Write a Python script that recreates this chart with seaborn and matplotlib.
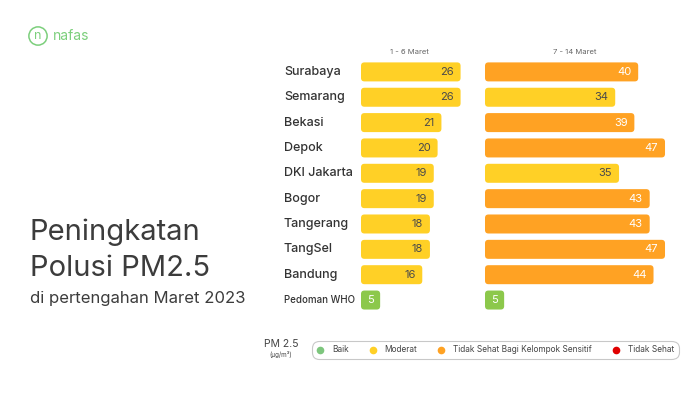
import pandas as pd
import matplotlib.pyplot as plt
import matplotlib.transforms as mtransforms
from matplotlib.patches import FancyBboxPatch
from matplotlib.lines import Line2D
import seaborn as sns

# data
cities = ["Surabaya", "Semarang", "Bekasi", "Depok", "DKI Jakarta", "Bogor",
          "Tangerang", "TangSel", "Bandung", "Pedoman WHO"]
early_march = [26, 26, 21, 20, 19, 19, 18, 18, 16, 5]
mid_march = [40, 34, 39, 47, 35, 43, 43, 47, 44, 5]
early_cat = ["Moderat"] * 9 + ["Baik"]
mid_cat = ["Tidak Sehat BKS", "Moderat", "Tidak Sehat BKS", "Tidak Sehat BKS", "Moderat",
           "Tidak Sehat BKS", "Tidak Sehat BKS", "Tidak Sehat BKS", "Tidak Sehat BKS", "Baik"]
period_labels = ["1 - 6 Maret", "7 - 14 Maret"]
legend_labels = ["Baik", "Moderat", "Tidak Sehat Bagi Kelompok Sensitif", "Tidak Sehat"]

bar_colors = {"Baik": "#8cc84b", "Moderat": "#ffd026", "Tidak Sehat BKS": "#ffa223"}
text_colors = {"Baik": "white", "Moderat": "#4a4a4a", "Tidak Sehat BKS": "white"}
legend_colors = ["#7dc67d", "#ffd026", "#ffa223", "#e00000"]

sns.set_style("white")
plt.rcParams["font.family"] = ["Inter", "DejaVu Sans"]

fig = plt.figure(figsize=(7, 3.93), dpi=100)

# axes: left panel starts x=361px, right x=485px, ~3.83 px per unit
px_per_unit = 3.83
bottom, height = 0.2043, 0.645
ax1 = fig.add_axes([361 / 700, bottom, 30 * px_per_unit / 700, height])
ax2 = fig.add_axes([485 / 700, bottom, 50 * px_per_unit / 700, height])

panels = [(ax1, early_march, early_cat, 30), (ax2, mid_march, mid_cat, 50)]
for ax, vals, cats, xmax in panels:
    df = pd.DataFrame({"city": cities, "pm25": vals, "cat": cats})
    sns.barplot(data=df, y="city", x="pm25", hue="cat", palette=bar_colors,
                dodge=False, orient="h", width=0.75, saturation=1, ax=ax, legend=False)
    ax.set_xlim(0, xmax)
    ax.set_ylim(len(cities) - 0.5, -0.5)
    ax.axis("off")

    # rounded bars
    row_px = height * 393 / len(cities)
    for p in list(ax.patches):
        if p.get_width() == 0:
            p.remove()
            continue
        fb = FancyBboxPatch((p.get_x(), p.get_y()), p.get_width(), p.get_height(),
                            boxstyle="round,pad=0,rounding_size=0.9",
                            mutation_aspect=px_per_unit / row_px,
                            facecolor=p.get_facecolor(), edgecolor="none")
        p.remove()
        ax.add_patch(fb)

    for i, (v, c) in enumerate(zip(vals, cats)):
        if c == "Baik":
            ax.text(v / 2, i, str(v), ha="center", va="center", fontsize=8,
                    color=text_colors[c])
        else:
            ax.text(v - 1.8, i, str(v), ha="right", va="center", fontsize=8,
                    color=text_colors[c])

# city labels
trans = mtransforms.blended_transform_factory(fig.transFigure, ax1.transData)
for i, name in enumerate(cities):
    if name == "Pedoman WHO":
        ax1.text(284 / 700, i, name, transform=trans, ha="left", va="center",
                 fontsize=7, fontweight="medium", color="#333333")
    else:
        ax1.text(284 / 700, i, name, transform=trans, ha="left", va="center",
                 fontsize=9, fontweight="medium", color="#333333")

# period headers
fig.text(409 / 700, 1 - 52 / 393, period_labels[0], ha="center", va="center",
         fontsize=5.5, color="#666666")
fig.text(575 / 700, 1 - 52 / 393, period_labels[1], ha="center", va="center",
         fontsize=5.5, color="#666666")

# title block
fig.text(30 / 700, 1 - 232 / 393, "Peningkatan", ha="left", va="center",
         fontsize=21, color="#3c3c3c")
fig.text(30 / 700, 1 - 268 / 393, "Polusi PM2.5", ha="left", va="center",
         fontsize=21, color="#3c3c3c")
fig.text(30 / 700, 1 - 298 / 393, "di pertengahan Maret 2023", ha="left", va="center",
         fontsize=12, color="#3c3c3c")

# logo
fig.text(38 / 700, 1 - 36 / 393, "n", ha="center", va="center", fontsize=9,
         color="#7ccf7c",
         bbox=dict(boxstyle="circle,pad=0.25", fc="none", ec="#7ccf7c", lw=1.1))
fig.text(53 / 700, 1 - 36 / 393, "nafas", ha="left", va="center", fontsize=10,
         color="#7ccf7c")

# legend
fig.text(281 / 700, 1 - 344 / 393, "PM 2.5", ha="center", va="center",
         fontsize=7.5, color="#444444")
fig.text(281 / 700, 1 - 355 / 393, "(µg/m³)", ha="center", va="center",
         fontsize=4.5, color="#444444")
handles = [Line2D([], [], marker="o", linestyle="", markersize=5.5,
                  markerfacecolor=c, markeredgecolor="none") for c in legend_colors]
leg = fig.legend(handles, legend_labels, loc="center", bbox_to_anchor=(495 / 700, 1 - 350 / 393),
                 ncol=4, fontsize=6, frameon=True, fancybox=True, handletextpad=0.9,
                 columnspacing=2.4, borderpad=0.55, handlelength=1.0, borderaxespad=0)
leg.get_frame().set_edgecolor("#bbbbbb")
leg.get_frame().set_linewidth(0.8)
leg.get_frame().set_boxstyle("round,pad=0,rounding_size=0.9")
for t in leg.get_texts():
    t.set_color("#444444")

fig.savefig("out.png", dpi=100, facecolor="white")
